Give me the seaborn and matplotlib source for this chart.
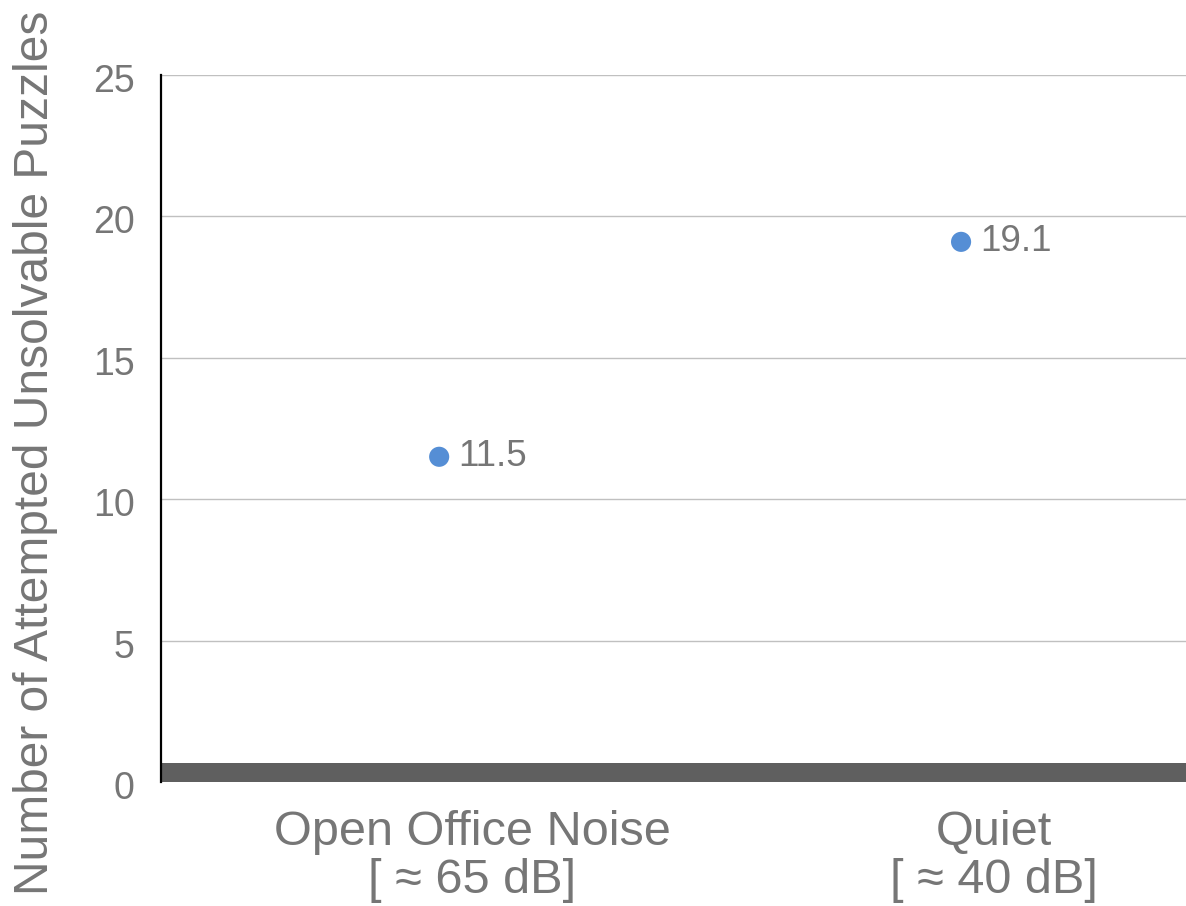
import matplotlib
matplotlib.use("Agg")
import matplotlib.pyplot as plt
import matplotlib.transforms as mtransforms
import seaborn as sns
import pandas as pd

conditions = ["Open Office Noise\n[ ≈ 65 dB]", "Quiet\n[ ≈ 40 dB]"]
attempted = [11.5, 19.1]
y_ticks = [0, 5, 10, 15, 20, 25]

sns.set_theme(style="white")
plt.rcParams["font.family"] = ["Liberation Sans", "DejaVu Sans"]

text_color = "#767676"
point_color = "#558ED5"

df = pd.DataFrame({"condition": conditions, "attempted": attempted})

fig = plt.figure(figsize=(11.86, 9.06), dpi=100)
ax = fig.add_axes([161 / 1186, 1 - 782 / 906, 1025 / 1186, 707 / 906])

sns.scatterplot(data=df, x="condition", y="attempted", ax=ax,
                s=210, color=point_color, edgecolor="none", zorder=3)

for i, v in enumerate(attempted):
    ax.annotate(f"{v}", (i, v), xytext=(14, 0), textcoords="offset points",
                ha="left", va="center", fontsize=26.5, color=text_color)

ax.set_ylim(0, 25)
ax.set_xlim(-0.533, 1.431)
ax.set_yticks(y_ticks)
ax.set_yticklabels([str(t) for t in y_ticks])
ax.yaxis.grid(True, color="#c0c0c0", linewidth=1.0)
ax.set_axisbelow(True)

# heavy baseline band along the category axis
ax.axhspan(0, 0.67, color="#5f5f5f", zorder=2, linewidth=0)

for s in ["top", "right", "bottom"]:
    ax.spines[s].set_visible(False)
ax.spines["left"].set_color("black")
ax.spines["left"].set_linewidth(1.6)

ax.tick_params(axis="y", length=0, pad=19, labelsize=27, labelcolor=text_color)
ax.tick_params(axis="x", length=0, pad=20, labelsize=35, labelcolor=text_color)
shift = mtransforms.ScaledTranslation(33 / 100, 0, fig.dpi_scale_trans)
for lbl in ax.get_xticklabels():
    lbl.set_transform(lbl.get_transform() + shift)
    lbl.set_linespacing(1.08)
ydrop = mtransforms.ScaledTranslation(0, -3 / 100, fig.dpi_scale_trans)
for lbl in ax.get_yticklabels():
    lbl.set_transform(lbl.get_transform() + ydrop)

ax.set_xlabel("")
ax.set_ylabel("Number of Attempted Unsolvable Puzzles", fontsize=34.5,
              color=text_color)
ax.yaxis.set_label_coords(-103 / 1025, 0.465)

fig.savefig("out.png", dpi=100)
